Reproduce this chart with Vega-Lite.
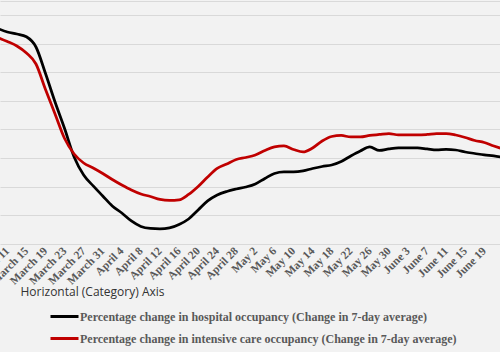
{
  "$schema": "https://vega.github.io/schema/vega-lite/v6.json",
  "autosize": {"type": "none"},
  "width": 500,
  "height": 243,
  "padding": {"left": 0, "top": 1, "right": 0, "bottom": 108},
  "background": "#f2f2f2",
  "config": {"view": {"stroke": null}},
  "data": {
    "format": {"parse": {"date": "date:'%Y-%m-%d'"}},
    "values": [
      {"date": "2020-03-09", "hospital": -2.36, "icu": -3.93},
      {"date": "2020-03-11", "hospital": -2.97, "icu": -4.63},
      {"date": "2020-03-13", "hospital": -3.32, "icu": -5.41},
      {"date": "2020-03-15", "hospital": -3.81, "icu": -6.64},
      {"date": "2020-03-17", "hospital": -5.59, "icu": -8.56},
      {"date": "2020-03-19", "hospital": -10.22, "icu": -13.01},
      {"date": "2020-03-21", "hospital": -15.19, "icu": -17.29},
      {"date": "2020-03-23", "hospital": -19.82, "icu": -21.57},
      {"date": "2020-03-25", "hospital": -24.8, "icu": -24.28},
      {"date": "2020-03-27", "hospital": -27.94, "icu": -25.85},
      {"date": "2020-03-29", "hospital": -29.86, "icu": -26.72},
      {"date": "2020-03-31", "hospital": -31.61, "icu": -27.68},
      {"date": "2020-04-02", "hospital": -33.36, "icu": -28.73},
      {"date": "2020-04-04", "hospital": -34.58, "icu": -29.69},
      {"date": "2020-04-06", "hospital": -35.98, "icu": -30.56},
      {"date": "2020-04-08", "hospital": -36.94, "icu": -31.26},
      {"date": "2020-04-10", "hospital": -37.29, "icu": -31.7},
      {"date": "2020-04-12", "hospital": -37.37, "icu": -32.22},
      {"date": "2020-04-14", "hospital": -37.2, "icu": -32.4},
      {"date": "2020-04-16", "hospital": -36.59, "icu": -32.31},
      {"date": "2020-04-18", "hospital": -35.63, "icu": -31.35},
      {"date": "2020-04-20", "hospital": -34.06, "icu": -29.95},
      {"date": "2020-04-22", "hospital": -32.48, "icu": -28.29},
      {"date": "2020-04-24", "hospital": -31.44, "icu": -26.81},
      {"date": "2020-04-26", "hospital": -30.82, "icu": -26.02},
      {"date": "2020-04-28", "hospital": -30.39, "icu": -25.24},
      {"date": "2020-04-30", "hospital": -30.04, "icu": -24.89},
      {"date": "2020-05-02", "hospital": -29.51, "icu": -24.45},
      {"date": "2020-05-04", "hospital": -28.55, "icu": -23.66},
      {"date": "2020-05-06", "hospital": -27.68, "icu": -23.05},
      {"date": "2020-05-08", "hospital": -27.42, "icu": -22.88},
      {"date": "2020-05-10", "hospital": -27.42, "icu": -23.49},
      {"date": "2020-05-12", "hospital": -27.24, "icu": -23.93},
      {"date": "2020-05-14", "hospital": -26.81, "icu": -23.23},
      {"date": "2020-05-16", "hospital": -26.46, "icu": -22.0},
      {"date": "2020-05-18", "hospital": -26.2, "icu": -21.22},
      {"date": "2020-05-20", "hospital": -25.58, "icu": -21.04},
      {"date": "2020-05-22", "hospital": -24.62, "icu": -21.31},
      {"date": "2020-05-24", "hospital": -23.75, "icu": -21.31},
      {"date": "2020-05-26", "hospital": -23.05, "icu": -21.04},
      {"date": "2020-05-28", "hospital": -23.66, "icu": -20.87},
      {"date": "2020-05-30", "hospital": -23.4, "icu": -20.7},
      {"date": "2020-06-01", "hospital": -23.23, "icu": -20.96},
      {"date": "2020-06-03", "hospital": -23.23, "icu": -20.96},
      {"date": "2020-06-05", "hospital": -23.23, "icu": -20.96},
      {"date": "2020-06-07", "hospital": -23.4, "icu": -20.87},
      {"date": "2020-06-09", "hospital": -23.58, "icu": -20.7},
      {"date": "2020-06-11", "hospital": -23.49, "icu": -20.7},
      {"date": "2020-06-13", "hospital": -23.58, "icu": -20.96},
      {"date": "2020-06-15", "hospital": -23.93, "icu": -21.39},
      {"date": "2020-06-17", "hospital": -24.19, "icu": -21.92},
      {"date": "2020-06-19", "hospital": -24.45, "icu": -22.27},
      {"date": "2020-06-21", "hospital": -24.62, "icu": -22.88},
      {"date": "2020-06-23", "hospital": -24.89, "icu": -23.4}
    ]
  },
  "transform": [{"fold": ["hospital", "icu"], "as": ["series", "value"]}],
  "mark": {"type": "line", "strokeWidth": 2.75, "clip": true, "interpolate": "monotone"},
  "encoding": {
    "x": {
      "field": "date",
      "type": "temporal",
      "scale": {"domain": [
        {"year": 2020, "month": 3, "date": 9, "hours": 11},
        {"year": 2020, "month": 6, "date": 22, "hours": 7}
      ]},
      "axis": {
        "values": [
          {"year": 2020, "month": 3, "date": 11}, {"year": 2020, "month": 3, "date": 15},
          {"year": 2020, "month": 3, "date": 19}, {"year": 2020, "month": 3, "date": 23},
          {"year": 2020, "month": 3, "date": 27}, {"year": 2020, "month": 3, "date": 31},
          {"year": 2020, "month": 4, "date": 4}, {"year": 2020, "month": 4, "date": 8},
          {"year": 2020, "month": 4, "date": 12}, {"year": 2020, "month": 4, "date": 16},
          {"year": 2020, "month": 4, "date": 20}, {"year": 2020, "month": 4, "date": 24},
          {"year": 2020, "month": 4, "date": 28}, {"year": 2020, "month": 5, "date": 2},
          {"year": 2020, "month": 5, "date": 6}, {"year": 2020, "month": 5, "date": 10},
          {"year": 2020, "month": 5, "date": 14}, {"year": 2020, "month": 5, "date": 18},
          {"year": 2020, "month": 5, "date": 22}, {"year": 2020, "month": 5, "date": 26},
          {"year": 2020, "month": 5, "date": 30}, {"year": 2020, "month": 6, "date": 3},
          {"year": 2020, "month": 6, "date": 7}, {"year": 2020, "month": 6, "date": 11},
          {"year": 2020, "month": 6, "date": 15}, {"year": 2020, "month": 6, "date": 19}
        ],
        "format": "%B %-d",
        "labelAngle": -45,
        "labelAlign": "right",
        "labelBaseline": "middle",
        "labelFont": "Liberation Serif",
        "labelFontWeight": "bold",
        "labelFontSize": 11.5,
        "labelColor": "#595959",
        "labelPadding": 5,
        "labelOverlap": false,
        "labelBound": false,
        "labelFlush": false,
        "ticks": false,
        "grid": false,
        "domainColor": "#d9d9d9",
        "domainWidth": 1,
        "title": "Horizontal (Category) Axis",
        "titleX": 20,
        "titleY": 51,
        "titleAlign": "left",
        "titleAnchor": null,
        "titleBaseline": "alphabetic",
        "titleFont": "Open Sans",
        "titleFontWeight": "normal",
        "titleFontSize": 12,
        "titleColor": "#333333"
      }
    },
    "y": {
      "field": "value",
      "type": "quantitative",
      "scale": {"domain": [-40, 2.445], "nice": false, "zero": false},
      "axis": {
        "values": [-35, -30, -25, -20, -15, -10, -5, 0, 2.445],
        "labels": false,
        "ticks": false,
        "domain": false,
        "title": null,
        "grid": true,
        "gridColor": "#d9d9d9",
        "gridWidth": 1
      }
    },
    "color": {
      "field": "series",
      "type": "nominal",
      "scale": {"domain": ["hospital", "icu"], "range": ["#000000", "#c00000"]},
      "legend": {
        "orient": "none",
        "legendX": 49,
        "legendY": 300,
        "direction": "vertical",
        "title": null,
        "padding": 0,
        "symbolType": "stroke",
        "symbolSize": 784,
        "symbolStrokeWidth": 3,
        "labelOffset": 0,
        "rowPadding": -6,
        "labelFont": "Liberation Serif",
        "labelFontWeight": "bold",
        "labelFontSize": 12,
        "labelColor": "#595959",
        "labelLimit": 0,
        "labelExpr": "datum.label == 'hospital' ? 'Percentage change in hospital occupancy (Change in 7-day average)' : 'Percentage change in intensive care occupancy (Change in 7-day average)'"
      }
    }
  }
}
